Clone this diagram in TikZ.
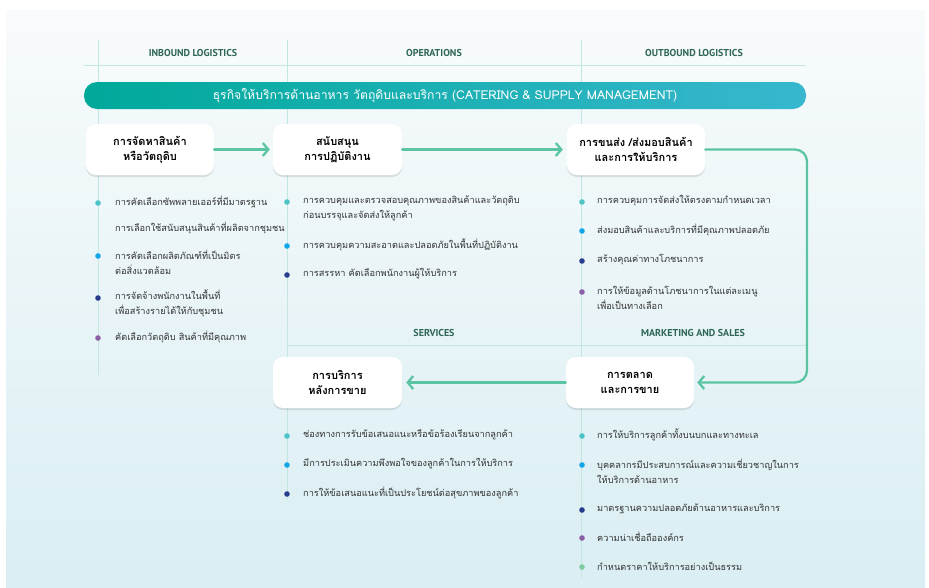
\documentclass[tikz,border=0pt]{standalone}
\usepackage{fontspec}
\newfontfamily\thai[Script=Thai]{Loma}
\newfontfamily\hdrfont{PT Sans}
\usetikzlibrary{arrows.meta,shadows}
\definecolor{hdrcol}{HTML}{2E6657}
\definecolor{linecol}{HTML}{C3E6E0}
\definecolor{bannerL}{HTML}{00A99A}
\definecolor{bannerR}{HTML}{38B7CE}
\definecolor{arrcol}{HTML}{5BC5A3}
\definecolor{bgtop}{HTML}{F8FBFC}
\definecolor{bgbot}{HTML}{DAEEF3}
\definecolor{dA}{HTML}{4CC3C6}
\definecolor{dB}{HTML}{12A6E6}
\definecolor{dC}{HTML}{283D8E}
\definecolor{dD}{HTML}{8B5FA8}
\definecolor{dE}{HTML}{7FCAA0}
\definecolor{txt}{HTML}{333333}
\tikzset{
  colline/.style={draw=linecol, line width=0.9pt},
  hdr/.style={font=\hdrfont\bfseries\fontsize{10}{12}\selectfont, text=hdrcol},
  stagebox/.style={rounded corners=10pt, fill=white, align=center, inner sep=0pt,
    font=\thai\bfseries\fontsize{11}{15}\selectfont, text=black,
    drop shadow={shadow xshift=0pt, shadow yshift=-2pt, opacity=0.10, fill=black}},
  bul/.style={anchor=west, align=left, inner sep=0pt, text=txt,
    font=\thai\fontsize{9.2}{15}\selectfont},
  dot/.style={circle, inner sep=0pt, minimum size=5.6pt},
  arr/.style={draw=arrcol, line width=2.3pt, line cap=round, line join=round,
    -{Straight Barb[length=5.5pt,width=13pt]}},
}
\begin{document}
\begin{tikzpicture}[x=1pt,y=-1pt]
\useasboundingbox (0,0) rectangle (929,587);
\shade[top color=bgtop, bottom color=bgbot] (6,10) rectangle (925,587);

% column lines
\draw[colline] (84,65) -- (806,65);
\draw[colline] (98,40) -- (98,375);
\draw[colline] (287,40) -- (287,500);
\draw[colline] (581,40) -- (581,578);
\draw[colline] (287,345) -- (806,345);

% headers
\node[hdr] (h1) at (193,53) {INBOUND LOGISTICS};
\node[hdr] (h2) at (434,53) {OPERATIONS};
\node[hdr] (h3) at (694,53) {OUTBOUND LOGISTICS};
\node[hdr] (h4) at (434,333) {SERVICES};
\node[hdr] (h5) at (693,333) {MARKETING AND SALES};

% banner
\shade[left color=bannerL, right color=bannerR, rounded corners=13pt] (84,82) rectangle (806,109);
\node[text=white, font=\thai\fontsize{12.2}{14}\selectfont] (banner) at (445,95.5)
  {ธุรกิจให้บริการด้านอาหาร วัตถุดิบและบริการ (CATERING \& SUPPLY MANAGEMENT)};

% stage boxes
\node[stagebox, minimum width=128pt, minimum height=51pt] (b1) at (150,149.5) {การจัดหาสินค้า\\หรือวัตถุดิบ};
\node[stagebox, minimum width=129pt, minimum height=51pt] (b2) at (337.5,149.5) {สนับสนุน\\การปฏิบัติงาน};
\node[stagebox, minimum width=138pt, minimum height=51pt] (b3) at (636,149.5) {การขนส่ง /ส่งมอบสินค้า\\และการให้บริการ};
\node[stagebox, minimum width=129pt, minimum height=51pt] (b4) at (337.5,382.5) {การบริการ\\หลังการขาย};
\node[stagebox, minimum width=128pt, minimum height=51pt] (b5) at (630,382.5) {การตลาด\\และการขาย};

% connectors
\coordinate (loop) at (807,270);
\draw[arr, shorten >=3pt] (b1) -- (b2);
\draw[arr, shorten >=4pt] (b2) -- (b3);
\draw[arr, rounded corners=12pt, shorten >=3pt] (b3.east) -| (loop) |- (b5.east);
\draw[arr, shorten >=4pt] (b5) -- (b4);

% inbound bullets
\node[dot, fill=dA] (d11) at (98,203) {};
\node[bul] (t11) at (115,202) {การคัดเลือกซัพพลายเออร์ที่มีมาตรฐาน};
\node[bul] (t12) at (115,228) {การเลือกใช้สนับสนุนสินค้าที่ผลิตจากชุมชน};
\node[dot, fill=dB] (d13) at (98,256) {};
\node[bul] (t13) at (115,262.5) {การคัดเลือกผลิตภัณฑ์ที่เป็นมิตร\\ต่อสิ่งแวดล้อม};
\node[dot, fill=dC] (d14) at (98,298) {};
\node[bul] (t14) at (115,303.5) {การจัดจ้างพนักงานในพื้นที่\\เพื่อสร้างรายได้ให้กับชุมชน};
\node[dot, fill=dD] (d15) at (98,338) {};
\node[bul] (t15) at (115,337) {คัดเลือกวัตถุดิบ สินค้าที่มีคุณภาพ};

% operations bullets
\node[dot, fill=dA] (d21) at (287,202) {};
\node[bul] (t21) at (303,208) {การควบคุมและตรวจสอบคุณภาพของสินค้าและวัตถุดิบ\\ก่อนบรรจุและจัดส่งให้ลูกค้า};
\node[dot, fill=dB] (d22) at (287,246) {};
\node[bul] (t22) at (303,245) {การควบคุมความสะอาดและปลอดภัยในพื้นที่ปฏิบัติงาน};
\node[dot, fill=dC] (d23) at (287,275) {};
\node[bul] (t23) at (303,274) {การสรรหา คัดเลือกพนักงานผู้ให้บริการ};

% outbound bullets
\node[dot, fill=dA] (d31) at (582,202) {};
\node[bul] (t31) at (597,201) {การควบคุมการจัดส่งให้ตรงตามกำหนดเวลา};
\node[dot, fill=dB] (d32) at (582,231) {};
\node[bul] (t32) at (597,230) {ส่งมอบสินค้าและบริการที่มีคุณภาพปลอดภัย};
\node[dot, fill=dC] (d33) at (582,261) {};
\node[bul] (t33) at (597,260) {สร้างคุณค่าทางโภชนาการ};
\node[dot, fill=dD] (d34) at (582,292) {};
\node[bul] (t34) at (597,298) {การให้ข้อมูลด้านโภชนาการในแต่ละเมนู\\เพื่อเป็นทางเลือก};

% services bullets
\node[dot, fill=dA] (d41) at (287,436) {};
\node[bul] (t41) at (303,435) {ช่องทางการรับข้อเสนอแนะหรือข้อร้องเรียนจากลูกค้า};
\node[dot, fill=dB] (d42) at (287,465) {};
\node[bul] (t42) at (303,464) {มีการประเมินความพึงพอใจของลูกค้าในการให้บริการ};
\node[dot, fill=dC] (d43) at (287,494) {};
\node[bul] (t43) at (303,493) {การให้ข้อเสนอแนะที่เป็นประโยชน์ต่อสุขภาพของลูกค้า};

% marketing bullets
\node[dot, fill=dA] (d51) at (582,436) {};
\node[bul] (t51) at (597,435) {การให้บริการลูกค้าทั้งบนบกและทางทะเล};
\node[dot, fill=dB] (d52) at (582,465) {};
\node[bul] (t52) at (597,471.5) {บุคคลากรมีประสบการณ์และความเชี่ยวชาญในการ\\ให้บริการด้านอาหาร};
\node[dot, fill=dC] (d53) at (582,510) {};
\node[bul] (t53) at (597,509) {มาตรฐานความปลอดภัยด้านอาหารและบริการ};
\node[dot, fill=dD] (d54) at (582,538) {};
\node[bul] (t54) at (597,537) {ความน่าเชื่อถือองค์กร};
\node[dot, fill=dE] (d55) at (582,567) {};
\node[bul] (t55) at (597,566) {กำหนดราคาให้บริการอย่างเป็นธรรม};
\end{tikzpicture}
\end{document}
